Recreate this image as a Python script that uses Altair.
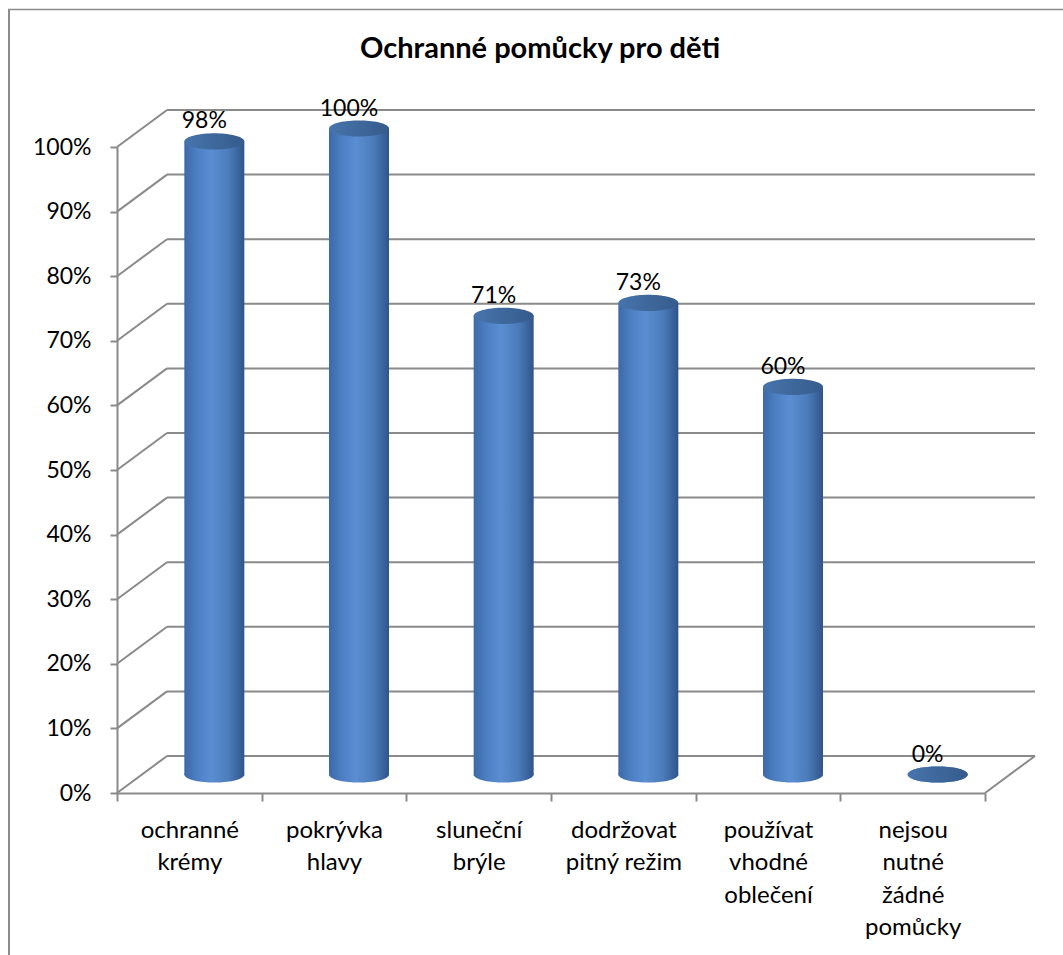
import math
import altair as alt
import pandas as pd

# Chart content
title_text = "Ochranné pomůcky pro děti"
categories = [
    "ochranné|krémy",
    "pokrývka|hlavy",
    "sluneční|brýle",
    "dodržovat|pitný režim",
    "používat|vhodné|oblečení",
    "nejsou|nutné|žádné|pomůcky",
]
values = [98, 100, 71, 73, 60, 0]
value_labels = ["98%", "100%", "71%", "73%", "60%", "0%"]
tick_values = list(range(0, 101, 10))

# Plot-area geometry (front plane) and pseudo-3D depth offset
W, H = 868, 646
DX, DY = 50, 37          # back wall shift
BX, BY = DX / 2, DY / 2  # cylinders stand at half depth
FONT = "Lato"
GRID = "#8a8a8a"

bars = pd.DataFrame({"cat": categories, "value": values, "label": value_labels})
ticks = pd.DataFrame({"value": tick_values})
one = pd.DataFrame({"t": [title_text]})

x_enc = alt.X("cat:N", sort=None, scale=alt.Scale(paddingInner=0, paddingOuter=0),
              axis=alt.Axis(title=None, labelAngle=0,
                            labelExpr="datum.value ? split(datum.value, '|') : ''",
                            labelFont=FONT, labelFontSize=24, labelColor="black",
                            labelLineHeight=32.5, labelBaseline="top", labelPadding=17,
                            tickBand="extent", tickSize=8, tickColor=GRID, tickWidth=2,
                            domainColor=GRID, domainWidth=2, grid=False))
y_scale = alt.Scale(domain=[0, 100], nice=False, zero=True)
y_axis = alt.Axis(title=None, values=tick_values, labelExpr="datum.value + '%'",
                  labelFont=FONT, labelFontSize=23, labelColor="black",
                  labelPadding=19, tickSize=7, tickColor=GRID, tickWidth=2,
                  domainColor=GRID, domainWidth=2, grid=False)
y_enc = alt.Y("value:Q", scale=y_scale, axis=y_axis)

# Elliptical cross-section of a cylinder, as a custom symbol path
pts = [(math.cos(2 * math.pi * i / 72), 0.27 * math.sin(2 * math.pi * i / 72)) for i in range(72)]
ellipse = "M" + "L".join(f"{a:.4f},{b:.4f}" for a, b in pts) + "Z"

body_fill = alt.Gradient(
    gradient="linear", x1=0, x2=1, y1=0, y2=0,
    stops=[alt.GradientStop(offset=0, color="#3d69a6"),
           alt.GradientStop(offset=0.18, color="#4a7cc0"),
           alt.GradientStop(offset=0.45, color="#5a8ed2"),
           alt.GradientStop(offset=0.75, color="#4b7bba"),
           alt.GradientStop(offset=1, color="#30548a")])
cap_fill = alt.Gradient(
    gradient="linear", x1=0, x2=1, y1=0, y2=0,
    stops=[alt.GradientStop(offset=0, color="#4774ad"),
           alt.GradientStop(offset=0.5, color="#3e689c"),
           alt.GradientStop(offset=1, color="#365b8c")])

# Back wall gridlines and the side diagonals joining them to the value axis
back_grid = alt.Chart(ticks).mark_rule(color=GRID, strokeWidth=2, yOffset=-DY).encode(
    x=alt.value(DX), x2=alt.value(W + DX), y=y_enc)
side_grid = alt.Chart(ticks).mark_rule(color=GRID, strokeWidth=2, y2Offset=-DY).encode(
    x=alt.value(0), x2=alt.value(DX), y=y_enc, y2="value:Q")
floor_edge = alt.Chart(ticks[ticks.value == 0]).mark_rule(color=GRID, strokeWidth=2, y2Offset=-DY).encode(
    x=alt.value(W), x2=alt.value(W + DX), y=y_enc, y2="value:Q")

# Outer frame (left and top edges)
frame_left = alt.Chart(one).mark_rule(color="#8c8c8c", strokeWidth=2).encode(
    x=alt.value(-108), y=alt.value(-138), y2=alt.value(H + 170))
frame_top = alt.Chart(one).mark_rule(color="#8c8c8c", strokeWidth=1.5).encode(
    x=alt.value(-109), x2=alt.value(W + 80), y=alt.value(-137.5))

base = alt.Chart(bars)
bottoms = base.mark_point(shape=ellipse, size=3600, filled=True, fill=body_fill,
                          opacity=1, strokeWidth=0, xOffset=BX, yOffset=-BY).encode(
    x=x_enc, y=alt.Y("zero:Q", scale=y_scale, axis=y_axis)).transform_calculate(zero="0")
bodies = base.mark_bar(width=60, fill=body_fill, xOffset=BX, x2Offset=BX,
                       yOffset=-BY, y2Offset=-BY).encode(
    x=x_enc, y=y_enc, y2=alt.datum(0))
caps = base.mark_point(shape=ellipse, size=3600, filled=True, fill=cap_fill,
                       opacity=1, strokeWidth=0, xOffset=BX, yOffset=-BY).encode(
    x=x_enc, y=y_enc)
labels = base.mark_text(font=FONT, fontSize=23, color="black", baseline="alphabetic",
                        xOffset=BX - 10, yOffset=-BY - 13).encode(
    x=x_enc, y=y_enc, text="label:N")

title = alt.Chart(one).mark_text(font=FONT, fontSize=29, fontWeight="bold", color="black",
                                 baseline="alphabetic", align="center").encode(
    text="t:N", x=alt.value(423), y=alt.value(-89))

chart = alt.layer(
    frame_left, frame_top, back_grid, side_grid, floor_edge,
    bottoms, bodies, caps, labels, title
).properties(
    width=W, height=H,
    background="white",
    autosize=alt.AutoSizeParams(type="none"),
    padding={"left": 117, "top": 147, "right": 78, "bottom": 162},
).configure_view(stroke=None)

chart.save("out.html", embed_options={"renderer": "svg", "actions": False})
